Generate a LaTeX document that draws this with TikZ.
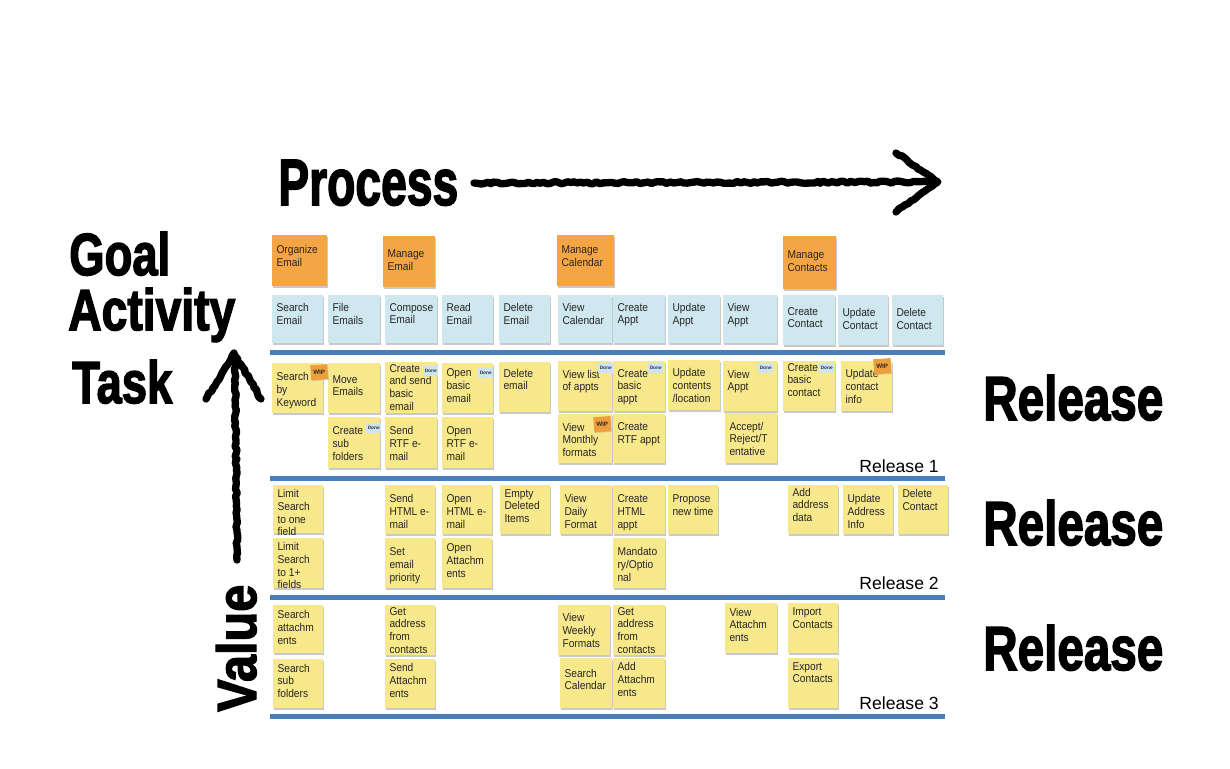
\documentclass[tikz,border=0pt]{standalone}
\usepackage{fontspec}
\setmainfont{Liberation Sans}
\newfontfamily\headfont{Liberation Sans Bold}[FakeBold=2.6]
\newfontfamily\notefont{Liberation Sans}[FakeStretch=0.9]
\usetikzlibrary{shadows,decorations.pathmorphing}
\definecolor{goalc}{HTML}{F6A544}
\definecolor{actc}{HTML}{CFE7EF}
\definecolor{taskc}{HTML}{F8E88C}
\definecolor{linec}{HTML}{4A7EBB}
\definecolor{donec}{HTML}{CDE5F2}
\definecolor{wipc}{HTML}{EF9E3C}
\tikzset{
  notebase/.style={draw=none, inner sep=0pt,
    drop shadow={shadow xshift=0.6pt, shadow yshift=-1.3pt, opacity=0.35, fill=black!60}},
  goal/.style={notebase, fill=goalc},
  act/.style={notebase, fill=actc},
  task/.style={notebase, fill=taskc},
  notetext/.style={inner sep=0pt, align=left, font=\notefont\fontsize{8.5}{9.6}\selectfont, text=black!85},
  donetag/.style={fill=donec, inner sep=0pt, font=\fontsize{3.6}{4}\selectfont\bfseries,
    minimum width=11.25pt, minimum height=7.5pt, text=black!80},
  wiptag/.style={fill=wipc, inner sep=0pt, font=\fontsize{4.6}{5}\selectfont\bfseries,
    minimum width=12.75pt, minimum height=11.25pt, text=black!85, rotate=4,
    drop shadow={shadow xshift=0.4pt, shadow yshift=-0.6pt, opacity=0.3}},
  relline/.style={draw=linec, line width=3.75pt},
  chalk/.style={line width=5.5pt, line cap=round, line join=round, decorate,
    decoration={random steps, segment length=2.5pt, amplitude=0.8pt}},
  headtext/.style={inner sep=0pt},
  smallrel/.style={inner sep=0pt, anchor=base east, font=\fontsize{13.2}{14}\selectfont}
}
% #1 gap (pt), #2 name, #3 style, #4 x1, #5 y1, #6 x2, #7 y2, #8 text  (pixel coords)
\newcommand\sticky[8][5]{%
  \node[#3, anchor=north west, minimum width={(#6-#4)*0.75pt}, minimum height={(#7-#5)*0.75pt}] (#2) at (#4,#5) {};
  \node[notetext, anchor=north west] (#2t) at ([xshift=3.2pt,yshift=-#1pt]#2.north west) {#8};%
}
% #1 name, #2 style, #3 x, #4 y, #5 text
\newcommand\stag[5]{%
  \node[#2, anchor=north west] (#1) at (#3,#4) {#5};%
}
\begin{document}
\begin{tikzpicture}[x=0.75pt,y=-0.75pt]
\useasboundingbox (0,0) rectangle (1230,768);
\fill[white] (0,0) rectangle (1230,768);

% ---------- headings ----------
\node[headtext, anchor=base west] (process) at (278,205) {\resizebox{135pt}{33.75pt}{\headfont Process}};
\node[headtext, anchor=base west] (goal) at (69,275) {\resizebox{75.75pt}{32.25pt}{\headfont Goal}};
\node[headtext, anchor=base west] (activity) at (68,330) {\resizebox{125.25pt}{31.5pt}{\headfont Activity}};
\node[headtext, anchor=base west] (task) at (72,403) {\resizebox{75pt}{32.25pt}{\headfont Task}};
\node[headtext, anchor=base west, rotate=90] (value) at (256,712) {\resizebox{95.25pt}{30pt}{\headfont Value}};
\node[headtext, anchor=base west] (relA) at (983,420) {\resizebox{135pt}{33.75pt}{\headfont Release}};
\node[headtext, anchor=base west] (relB) at (983,545) {\resizebox{135pt}{33.75pt}{\headfont Release}};
\node[headtext, anchor=base west] (relC) at (983,670) {\resizebox{135pt}{33.75pt}{\headfont Release}};

% ---------- chalk arrows ----------
\coordinate (pa) at (474,183);
\coordinate (pb) at (934,182);
\coordinate (ptip) at (938,182);
\coordinate (ph1) at (896,153);
\coordinate (ph2) at (896,212);
\draw[chalk] (pa) -- (pb);
\draw[chalk] (ph1) -- (ptip) -- (ph2);

\coordinate (va) at (237,560);
\coordinate (vb) at (235,358);
\coordinate (vtip) at (234,353);
\coordinate (vh1) at (206,399);
\coordinate (vh2) at (261,399);
\draw[chalk] (va) -- (vb);
\draw[chalk] (vh1) -- (vtip) -- (vh2);

% ---------- release lines ----------
\coordinate (l1a) at (270,352); \coordinate (l1b) at (945,352);
\coordinate (l2a) at (270,478); \coordinate (l2b) at (945,478);
\coordinate (l3a) at (270,597); \coordinate (l3b) at (945,597);
\coordinate (l4a) at (270,716); \coordinate (l4b) at (945,716);
\draw[relline] (l1a) -- (l1b);
\draw[relline] (l2a) -- (l2b);
\draw[relline] (l3a) -- (l3b);
\draw[relline] (l4a) -- (l4b);

\node[smallrel] (rel1) at (939,472) {Release 1};
\node[smallrel] (rel2) at (939,589) {Release 2};
\node[smallrel] (rel3) at (939,709) {Release 3};

% ---------- goals ----------
\sticky[7.5]{g1}{goal}{272}{235}{327}{286}{Organize\\Email}
\sticky[10]{g2}{goal}{383}{236}{435}{287}{Manage\\Email}
\sticky[8]{g3}{goal}{557}{235}{614}{286}{Manage\\Calendar}
\sticky[11]{g4}{goal}{783}{236}{836}{289}{Manage\\Contacts}

% ---------- activities ----------
\sticky[6]{a1}{act}{272}{295}{323}{343}{Search\\Email}
\sticky[6]{a2}{act}{328}{295}{380}{343}{File\\Emails}
\sticky[6]{a3}{act}{385}{295}{437}{343}{Compose\\Email}
\sticky[6]{a4}{act}{442}{295}{493}{343}{Read\\Email}
\sticky[6]{a5}{act}{499}{295}{550}{343}{Delete\\Email}
\sticky[6]{a6}{act}{558}{295}{612}{343}{View\\Calendar}
\sticky[6]{a7}{act}{613}{295}{665}{343}{Create\\Appt}
\sticky[6]{a8}{act}{668}{295}{720}{343}{Update\\Appt}
\sticky[6]{a9}{act}{723}{295}{777}{343}{View\\Appt}
\sticky[9]{a10}{act}{783}{295}{835}{345}{Create\\Contact}
\sticky[10]{a11}{act}{838}{295}{888}{345}{Update\\Contact}
\sticky[10]{a12}{act}{892}{295}{943}{345}{Delete\\Contact}

% ---------- release 1 ----------
\sticky[7]{t1}{task}{272}{363}{323}{413}{Search\\by\\Keyword}
\sticky[9]{t2}{task}{328}{363}{380}{413}{Move\\Emails}
\sticky[1.5]{t3}{task}{385}{362}{437}{413}{Create\\and send\\basic\\email}
\sticky[4]{t4}{task}{442}{363}{493}{413}{Open\\basic\\email}
\sticky[5]{t5}{task}{499}{362}{550}{412}{Delete\\email}
\sticky[6.5]{t6}{task}{558}{361}{612}{411}{View list\\of appts}
\sticky[6]{t7}{task}{613}{361}{665}{411}{Create\\basic\\appt}
\sticky[6]{t8}{task}{668}{360}{720}{410}{Update\\contents\\/location}
\sticky[6.5]{t9}{task}{723}{361}{777}{411}{View\\Appt}
\sticky[1.5]{t10}{task}{783}{361}{835}{411}{Create\\basic\\contact}
\sticky[6]{t11}{task}{841}{361}{892}{411}{Update\\contact\\info}

\sticky[7]{u1}{task}{328}{417}{380}{468}{Create\\sub\\folders}
\sticky[7]{u2}{task}{385}{417}{437}{468}{Send\\RTF e-\\mail}
\sticky[7]{u3}{task}{442}{417}{493}{468}{Open\\RTF e-\\mail}
\sticky[6.5]{u4}{task}{558}{414}{612}{463}{View\\Monthly\\formats}
\sticky[6.5]{u5}{task}{613}{414}{665}{463}{Create\\RTF appt}
\sticky[6.5]{u6}{task}{725}{413}{777}{463}{Accept/\\Reject/T\\entative}

% ---------- release 2 ----------
\sticky[3]{v1}{task}{273}{485}{323}{533}{Limit\\Search\\to one\\field}
\sticky[7]{v2}{task}{385}{485}{435}{534}{Send\\HTML e-\\mail}
\sticky[7]{v3}{task}{442}{485}{492}{534}{Open\\HTML e-\\mail}
\sticky[3]{v4}{task}{500}{485}{550}{534}{Empty\\Deleted\\Items}
\sticky[7]{v5}{task}{560}{485}{612}{534}{View\\Daily\\Format}
\sticky[7]{v6}{task}{613}{485}{665}{534}{Create\\HTML\\appt}
\sticky[7]{v7}{task}{668}{485}{718}{534}{Propose\\new time}
\sticky[2]{v8}{task}{788}{485}{838}{534}{Add\\address\\data}
\sticky[7]{v9}{task}{843}{485}{893}{534}{Update\\Address\\Info}
\sticky[3]{v10}{task}{898}{485}{948}{534}{Delete\\Contact}

\sticky[3]{w1}{task}{273}{538}{323}{588}{Limit\\Search\\to 1+\\fields}
\sticky[7]{w2}{task}{385}{538}{435}{588}{Set\\email\\priority}
\sticky[4]{w3}{task}{442}{538}{492}{588}{Open\\Attachm\\ents}
\sticky[7]{w4}{task}{613}{538}{665}{588}{Mandato\\ry/Optio\\nal}

% ---------- release 3 ----------
\sticky[4]{x1}{task}{273}{605}{323}{653}{Search\\attachm\\ents}
\sticky[1.5]{x2}{task}{385}{605}{435}{655}{Get\\address\\from\\contacts}
\sticky[6]{x3}{task}{558}{605}{610}{655}{View\\Weekly\\Formats}
\sticky[1.5]{x4}{task}{613}{605}{665}{655}{Get\\address\\from\\contacts}
\sticky[3.5]{x5}{task}{725}{603}{777}{653}{View\\Attachm\\ents}
\sticky[3.5]{x6}{task}{788}{603}{838}{653}{Import\\Contacts}

\sticky[3.5]{y1}{task}{273}{659}{323}{708}{Search\\sub\\folders}
\sticky[3]{y2}{task}{385}{659}{435}{708}{Send\\Attachm\\ents}
\sticky[8]{y3}{task}{560}{658}{612}{708}{Search\\Calendar}
\sticky[3]{y4}{task}{613}{658}{665}{708}{Add\\Attachm\\ents}
\sticky[3]{y5}{task}{788}{658}{838}{708}{Export\\Contacts}

% ---------- status tags ----------
\stag{d1}{donetag}{423}{366}{Done}
\stag{d2}{donetag}{478}{368}{Done}
\stag{d3}{donetag}{598}{363}{Done}
\stag{d4}{donetag}{648}{363}{Done}
\stag{d5}{donetag}{758}{363}{Done}
\stag{d6}{donetag}{819}{363}{Done}
\stag{d7}{donetag}{366}{423}{Done}
\stag{wa}{wiptag}{310}{365}{WIP}
\stag{wb}{wiptag}{873}{359}{WIP}
\stag{wc}{wiptag}{593}{417}{WIP}
\end{tikzpicture}
\end{document}
